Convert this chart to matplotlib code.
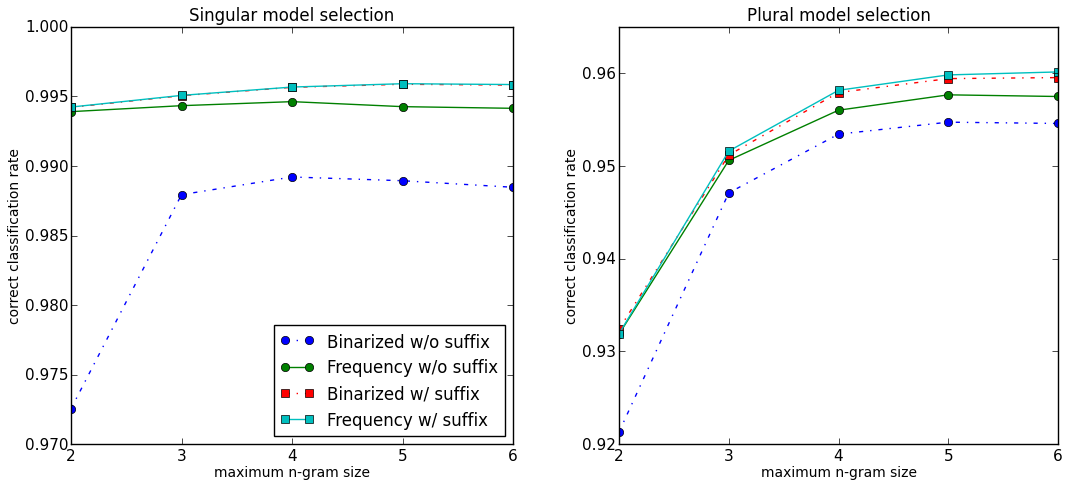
import matplotlib
matplotlib.use('Agg')
import matplotlib.pyplot as plt

plt.style.use('classic')

ngram = [2, 3, 4, 5, 6]

# singular model selection
sing_bin_nosuf = [0.97254, 0.98794, 0.98921, 0.98894, 0.98847]
sing_freq_nosuf = [0.99391, 0.99434, 0.99463, 0.99427, 0.99415]
sing_bin_suf = [0.99422, 0.99506, 0.99566, 0.99588, 0.99582]
sing_freq_suf = [0.99424, 0.99508, 0.99568, 0.99592, 0.99586]

# plural model selection
plur_bin_nosuf = [0.92129, 0.94710, 0.95344, 0.95473, 0.95459]
plur_freq_nosuf = [0.93186, 0.95061, 0.95602, 0.95768, 0.95750]
plur_bin_suf = [0.93240, 0.95118, 0.95793, 0.95943, 0.95954]
plur_freq_suf = [0.93190, 0.95161, 0.95817, 0.95983, 0.96015]

labels = ['Binarized w/o suffix', 'Frequency w/o suffix',
          'Binarized w/ suffix', 'Frequency w/ suffix']

fig = plt.figure(figsize=(10.86, 4.81), dpi=100)
ax1 = fig.add_axes([0.0654, 0.0748, 0.4070, 0.8670])
ax2 = fig.add_axes([0.5700, 0.0748, 0.4042, 0.8670])


def draw(ax, series):
    fmts = ['bo-.', 'go-', 'rs-.', 'cs-']
    for vals, fmt, lab in zip(series, fmts, labels):
        ax.plot(ngram, vals, fmt, label=lab, markersize=6)
    ax.set_xlim(2, 6)
    ax.set_xticks(ngram)
    ax.set_xlabel('maximum n-gram size', fontsize=10, labelpad=1)
    ax.set_ylabel('correct classification rate', fontsize=10, labelpad=2)
    ax.tick_params(labelsize=11)
    ax.tick_params(axis='x', pad=3)
    ax.tick_params(axis='y', pad=2)


draw(ax1, [sing_bin_nosuf, sing_freq_nosuf, sing_bin_suf, sing_freq_suf])
ax1.set_ylim(0.970, 1.000)
ax1.set_yticks([0.970, 0.975, 0.980, 0.985, 0.990, 0.995, 1.000])
ax1.set_yticklabels(['%.3f' % v for v in ax1.get_yticks()])
ax1.set_title('Singular model selection', fontsize=12)
ax1.legend(loc='lower right', fontsize=12, numpoints=2)

draw(ax2, [plur_bin_nosuf, plur_freq_nosuf, plur_bin_suf, plur_freq_suf])
ax2.set_ylim(0.920, 0.965)
ax2.set_yticks([0.92, 0.93, 0.94, 0.95, 0.96])
ax2.set_yticklabels(['%.2f' % v for v in ax2.get_yticks()])
ax2.set_title('Plural model selection', fontsize=12)

fig.savefig('out.png', dpi=100)
